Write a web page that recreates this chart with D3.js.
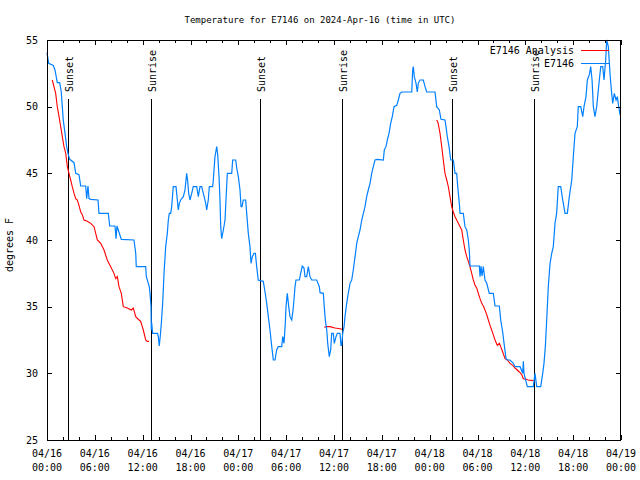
<!DOCTYPE html>
<html>
<head>
<meta charset="utf-8">
<script src="https://cdn.jsdelivr.net/npm/d3@7"></script>
<style>
  html, body { margin: 0; padding: 0; background: #fff; }
  svg { display: block; }
  text { font-family: "DejaVu Sans Mono", monospace; font-size: 10px; fill: #000; }
</style>
</head>
<body>
<svg id="chart" width="640" height="480"></svg>
<script>
// ---- data (hours after 2024-04-16 00:00 UTC, degrees F) ----
const titleText = "Temperature for E7146 on 2024-Apr-16 (time in UTC)";
const yLabelText = "degrees F";
const seriesNames = ["E7146 Analysis", "E7146"];
const yTicks = [25, 30, 35, 40, 45, 50, 55];

const obsHours = [0,0.21,0.79,1.0,1.29,1.59,1.79,1.92,2.04,2.26,2.47,2.63,2.85,3.39,3.6,4.01,4.23,4.85,4.98,5.14,5.27,5.48,6.4,6.52,7.69,7.87,8.53,8.66,8.78,9.32,10.91,11.13,11.2,12.38,12.46,12.83,12.92,13.05,13.08,13.13,13.25,13.87,13.96,14.08,14.21,14.34,14.51,14.68,14.89,15.09,15.22,15.34,15.52,15.64,15.77,15.84,16.18,16.35,16.47,16.6,16.77,17.1,17.31,17.52,17.65,17.77,17.94,18.15,18.35,18.78,18.98,19.19,19.4,19.61,19.91,20.03,20.23,20.36,20.78,20.86,20.95,21.07,21.29,21.41,21.58,21.7,21.79,21.91,22.12,22.33,22.45,22.62,23.17,23.29,23.67,23.8,24.0,24.21,24.34,24.46,24.62,24.92,25.05,25.25,25.46,25.59,25.75,25.97,26.14,26.3,26.5,26.71,27.13,27.35,27.56,27.76,27.97,28.19,28.39,28.6,28.81,29.01,29.44,29.57,29.73,29.89,29.98,30.14,30.32,30.48,30.7,30.86,30.98,31.11,31.23,31.65,31.82,32.02,32.24,32.36,32.58,32.78,32.99,33.2,33.83,34.16,34.25,34.66,34.78,34.91,35.09,35.21,35.41,35.59,35.71,35.91,36.04,36.25,36.42,36.75,36.88,36.97,37.09,37.26,37.38,37.59,37.79,38.01,38.22,38.42,38.64,38.85,39.05,39.26,39.48,39.68,39.89,40.1,40.3,40.52,40.73,40.93,41.14,41.43,42.19,42.31,42.52,42.69,42.9,43.11,43.31,43.53,43.87,44.07,44.28,44.49,45.75,45.87,45.95,46.07,46.29,46.45,46.57,46.79,47.2,47.42,47.63,48.67,48.88,49.21,49.42,49.92,50.05,50.21,50.43,50.64,50.97,51.18,51.39,51.52,51.72,51.81,52.22,52.43,52.65,52.85,52.97,53.06,54.23,54.32,54.44,54.57,54.73,54.94,55.16,55.48,55.98,56.2,56.74,56.91,57.16,57.33,57.58,57.74,58.08,58.5,58.71,59.34,59.67,59.75,59.83,60.25,61.0,61.21,61.43,61.93,62.18,62.34,62.51,62.68,62.88,63.1,63.31,63.51,63.72,63.93,64.13,64.44,64.69,64.98,65.27,65.52,65.82,66.02,66.23,66.52,66.64,66.95,67.2,67.36,67.61,67.78,68.03,68.2,68.37,68.53,68.74,68.95,69.28,69.46,69.71,69.87,70.08,70.21,70.41,70.62,70.79,70.96,71.16,71.38,71.54,71.71,71.88,72.0];
const obsTemps = [54.05,53.25,53.1,52.75,51.8,51.8,51.1,50,49,48,47,46.5,46.05,45.8,45,44.9,44.05,44.05,43.1,44.05,43.1,43.05,43,42,42,41.05,41.05,40.1,41.05,40.05,40,39,38,38,37.25,36.5,36,35,33.25,33.8,33,33,32.75,32.05,32.8,33.75,35.25,37.5,39.5,40.5,41.5,42,42,42.5,43.5,44,44,43,42.25,42.75,43,43.25,43.75,45,44.4,43.5,43,43.5,44,44,43.25,44,44,43.5,42.75,42.25,43,44,44,44.5,45.25,46.25,47,46.4,44.75,43,41,40.1,40.75,41.5,43,45,45,46,46,45.4,44.75,43.75,42.5,42.5,43,43,42,40.5,39.5,38.25,38.75,39,39,38,37,36.95,36.9,36.1,35.25,34.25,33.25,32,31,31,31.75,32,32,32.75,32.25,33.75,35,36,35,34.25,34,34.75,35.5,36.5,37,37,37.5,38.05,37.9,37.25,37.25,38,37.25,37,37,36.5,36.05,36,35,34,33.25,32.25,31.25,31.8,33,33,32.25,32.75,33,33,32.1,32.1,33,33.5,34.25,35.25,36,36.75,37,37.75,38.75,39.75,40.25,40.75,41.5,42,42.5,43.25,43.75,44.25,45,45.5,46,46.05,46,46.75,47,47.5,48,48.75,49.25,50,50.1,50.5,51,51.1,51.1,52.75,53,52.25,51.75,51.1,51.75,52,52,51.5,51.1,51.1,50,49.75,49.05,49,48.5,47.75,47,46,46,45,45,44,42.75,42,42,41,40.75,40,39.25,38.05,38.05,37.25,38.05,37.3,38,37,36.75,36,36,35.05,35.05,34,33.1,32.25,31.1,31,31,30.75,30.5,30.5,30,30.9,30,29,29,30,29,29,30,30.75,32,34,36.5,38.25,39,39.5,41.25,42,44,44,43,42,42,43.25,44.5,46.25,48,48.5,50,50,49.25,50,50.75,52,52.4,53,52,50,49.25,50,52,53,53,52,53.5,55,54.5,52.5,51.25,50.25,51,50.5,50.75,50,49.4,49.4];

// analysis series: null entries mark gaps between runs
const anaHours = [0.66,1.09,1.29,1.51,1.72,1.92,2.13,2.35,2.55,2.76,2.97,3.17,3.39,3.6,3.8,4.01,4.23,4.43,4.64,5.06,5.48,5.9,6.11,6.31,6.74,7.15,7.56,7.99,8.4,8.62,8.82,9.03,9.32,9.57,10.07,10.57,10.83,11.13,11.54,11.75,12.08,12.38,12.58,12.79,
  null,
  34.78,35.09,35.5,36.13,36.75,37.0,
  null,
  48.88,49.05,49.3,49.51,49.71,49.92,50.14,50.34,50.55,50.76,50.97,51.18,51.39,51.59,51.81,52.02,52.22,52.43,52.65,52.85,53.06,53.27,53.48,53.69,53.9,54.1,54.32,54.53,54.73,54.94,55.16,55.36,55.57,55.78,55.98,56.2,56.48,56.74,56.91,57.16,57.45,57.74,58.08,58.42,58.71,59.25,59.55,59.75,60.08,60.38,61.0];
const anaTemps = [52,51,50,49.25,48.5,47.75,47,46.5,45.5,45,44.5,44,43.5,43.1,43,42.6,42.1,41.9,41.5,41.4,41.25,41,40.5,40,39.75,39.25,38.5,38,37.5,37.1,37.25,36.5,36,35,34.9,34.75,34.9,34.25,34,33.9,33.25,32.5,32.4,32.4,
  null,
  33.45,33.5,33.5,33.4,33.35,33.3,
  null,
  49,48.8,48,47,46,45,44.5,44,43.25,42.5,42.1,41.75,41.5,41.25,41,40.75,40,39.25,38.75,38.4,38,37.5,37,36.6,36.4,36,35.6,35.25,35.05,34.75,34.4,34,33.6,33.25,32.9,32.5,32.1,32.25,32,31.6,31.1,31,30.75,30.6,30.4,30.1,29.9,29.6,29.55,29.5,29.45];

const sunHours = [2.68, 13.05, 26.76, 37.05, 50.84, 61.12];
const sunLabels = ["Sunset", "Sunrise", "Sunset", "Sunrise", "Sunset", "Sunrise"];

// ---- drawing ----
const M = {left: 47, right: 621, top: 40, bottom: 440};
const t0 = Date.UTC(2024, 3, 16);
const toDate = h => new Date(t0 + h * 3600e3);

const svg = d3.select("#chart");
const x = d3.scaleUtc().domain([toDate(0), toDate(72)]).range([M.left, M.right]);
const y = d3.scaleLinear().domain([25, 55]).range([M.bottom, M.top]);

// title
svg.append("text").attr("x", 320).attr("y", 23).attr("text-anchor", "middle")
  .style("font-size", "9px").text(titleText);

// y label
svg.append("text").attr("transform", "translate(13,245) rotate(-90)")
  .attr("text-anchor", "middle").text(yLabelText);

// sunrise / sunset lines
const sunG = svg.append("g");
sunHours.forEach((h, i) => {
  const sx = Math.round(x(toDate(h))) + 0.5;
  sunG.append("line").attr("x1", sx).attr("x2", sx).attr("y1", 99).attr("y2", M.bottom)
    .attr("stroke", "#000").attr("stroke-width", 1);
  sunG.append("text").attr("transform", `translate(${sx + 4.5},92) rotate(-90)`)
    .attr("text-anchor", "start").text(sunLabels[i]);
});

// series
const lineGen = d3.line()
  .defined(d => d[0] !== null && d[1] !== null)
  .x(d => x(toDate(d[0])))
  .y(d => y(d[1]));

const anaData = anaHours.map((h, i) => [h, anaTemps[i]]);
const obsData = obsHours.map((h, i) => [h, obsTemps[i]]);

svg.append("path").datum(anaData).attr("d", lineGen)
  .attr("fill", "none").attr("stroke", "#ff0000").attr("stroke-width", 1.1);
svg.append("path").datum(obsData).attr("d", lineGen)
  .attr("fill", "none").attr("stroke", "#0080ff").attr("stroke-width", 1.2);

// frame
svg.append("rect").attr("x", M.left + 0.5).attr("y", M.top + 0.5)
  .attr("width", M.right - M.left - 1).attr("height", M.bottom - M.top)
  .attr("fill", "none").attr("stroke", "#000").attr("stroke-width", 1).attr("shape-rendering", "crispEdges");

// x ticks (major 6h labelled, minor 2h), mirrored on top
const major = d3.utcHour.every(6).range(toDate(0), toDate(72.01));
const minor = d3.utcHour.every(2).range(toDate(0), toDate(72.01));
const tg = svg.append("g").attr("stroke", "#000").attr("shape-rendering", "crispEdges");
minor.forEach(d => {
  const isMajor = d.getUTCHours() % 6 === 0;
  const len = isMajor ? 5 : 3;
  const px = Math.round(x(d)) + 0.5;
  tg.append("line").attr("x1", px).attr("x2", px).attr("y1", M.bottom).attr("y2", M.bottom - len);
  tg.append("line").attr("x1", px).attr("x2", px).attr("y1", M.top).attr("y2", M.top + len);
});
const fmtD = d3.utcFormat("%m/%d"), fmtT = d3.utcFormat("%H:%M");
major.forEach(d => {
  const t = svg.append("text").attr("text-anchor", "middle");
  t.append("tspan").attr("x", x(d)).attr("y", 457).text(fmtD(d));
  t.append("tspan").attr("x", x(d)).attr("y", 471).text(fmtT(d));
});

// y ticks mirrored on right
yTicks.forEach(v => {
  const py = Math.round(y(v)) + 0.5;
  tg.append("line").attr("x1", M.left).attr("x2", M.left + 5).attr("y1", py).attr("y2", py);
  tg.append("line").attr("x1", M.right).attr("x2", M.right - 5).attr("y1", py).attr("y2", py);
  svg.append("text").attr("x", 38).attr("y", y(v) + 3.5).attr("text-anchor", "end").text(v);
});

// legend
const legX = 574;
seriesNames.forEach((name, i) => {
  const ly = 50 + i * 13;
  svg.append("text").attr("x", legX).attr("y", ly + 3.5).attr("text-anchor", "end").text(name);
  svg.append("line").attr("x1", 581).attr("x2", 609).attr("y1", ly + 0.5).attr("y2", ly + 0.5)
    .attr("stroke", i === 0 ? "#ff0000" : "#0080ff").attr("stroke-width", 1);
});
</script>
</body>
</html>
